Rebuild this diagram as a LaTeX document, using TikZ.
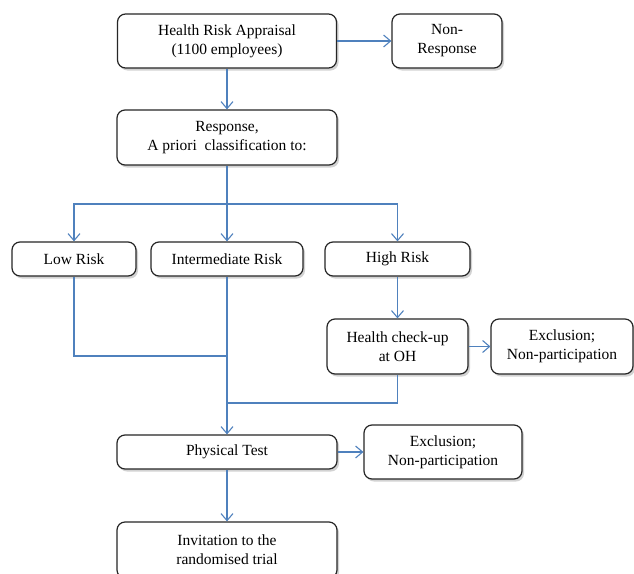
\documentclass[tikz,border=0pt]{standalone}
\usepackage{fontspec}
\setmainfont{Liberation Serif}
\usetikzlibrary{arrows.meta,positioning,calc,shadows}
\definecolor{linkblue}{RGB}{79,129,189}

\begin{document}
\begin{tikzpicture}[x=1pt, y=-1pt,
        every node/.style={align=center, font=\fontsize{15.5}{19}\selectfont},
        flowBox/.style={draw=black!85, line width=1.2pt, rounded corners=8pt, fill=white, inner sep=0pt,
                        drop shadow={shadow xshift=2pt, shadow yshift=-2.5pt, opacity=0.35}},
        flowarrow/.style={draw=linkblue, line width=1.1pt, -{Straight Barb[length=7pt, width=12pt]}},  % blue connector with open tip
        flowline/.style={draw=linkblue, line width=1.1pt}   % blue connector, no tip
    ]

    \path[use as bounding box, fill=white] (0,0) rectangle (634,573);

    % Top row
    \node[flowBox, minimum width=219pt, minimum height=54pt] (HRA) at (227,41) {Health Risk Appraisal\\(1100 employees)};
    \node[flowBox, minimum width=110pt, minimum height=54pt] (NR) at (447,41) {Non-\\Response};
    \node[flowBox, minimum width=220pt, minimum height=55pt] (Resp) at (227,137.5) {Response,\\A priori\ \ classification to:};

    % Risk groups
    \node[flowBox, minimum width=124pt, minimum height=34pt] (Low) at (74,259) {Low Risk};
    \node[flowBox, minimum width=152pt, minimum height=34pt] (Mid) at (227,259) {Intermediate Risk};
    \node[flowBox, minimum width=145pt, minimum height=34pt] (High) at (397.5,259) {High Risk};

    \node[flowBox, minimum width=141pt, minimum height=55pt] (Check) at (397.5,346.5) {Health check-up\\at OH};
    \node[flowBox, minimum width=142pt, minimum height=55pt] (Excl1) at (562,346.5) {Exclusion;\\Non-participation};

    % Bottom part
    \node[flowBox, minimum width=220pt, minimum height=34pt] (Phys) at (227,452) {Physical Test};
    \node[flowBox, minimum width=158pt, minimum height=54pt] (Excl2) at (443,452) {Exclusion;\\Non-participation};
    \node[flowBox, minimum width=220pt, minimum height=56pt] (Inv) at (227,550) {Invitation to the\\randomised trial};

    \coordinate (split) at (227,204);
    \coordinate (joinLow) at (227,356);
    \coordinate (joinHigh) at (227,403);

    \draw[flowarrow] (HRA) -- (NR);
    \draw[flowarrow] (HRA) -- (Resp);
    \draw[flowline] (Resp) -- (split);
    \draw[flowarrow] (split) -| (Low);
    \draw[flowarrow] (split) -- (Mid);
    \draw[flowarrow] (split) -| (High);

    \draw[flowline] (Low) |- (joinLow);
    \draw[flowarrow] (High) -- (Check);
    \draw[flowarrow] (Check) -- (Excl1);
    \draw[flowline] (Check) |- (joinHigh);
    \draw[flowarrow] (Mid) -- (Phys);

    \draw[flowarrow] (Phys) -- (Excl2);
    \draw[flowarrow] (Phys) -- (Inv);
\end{tikzpicture}
\end{document}
